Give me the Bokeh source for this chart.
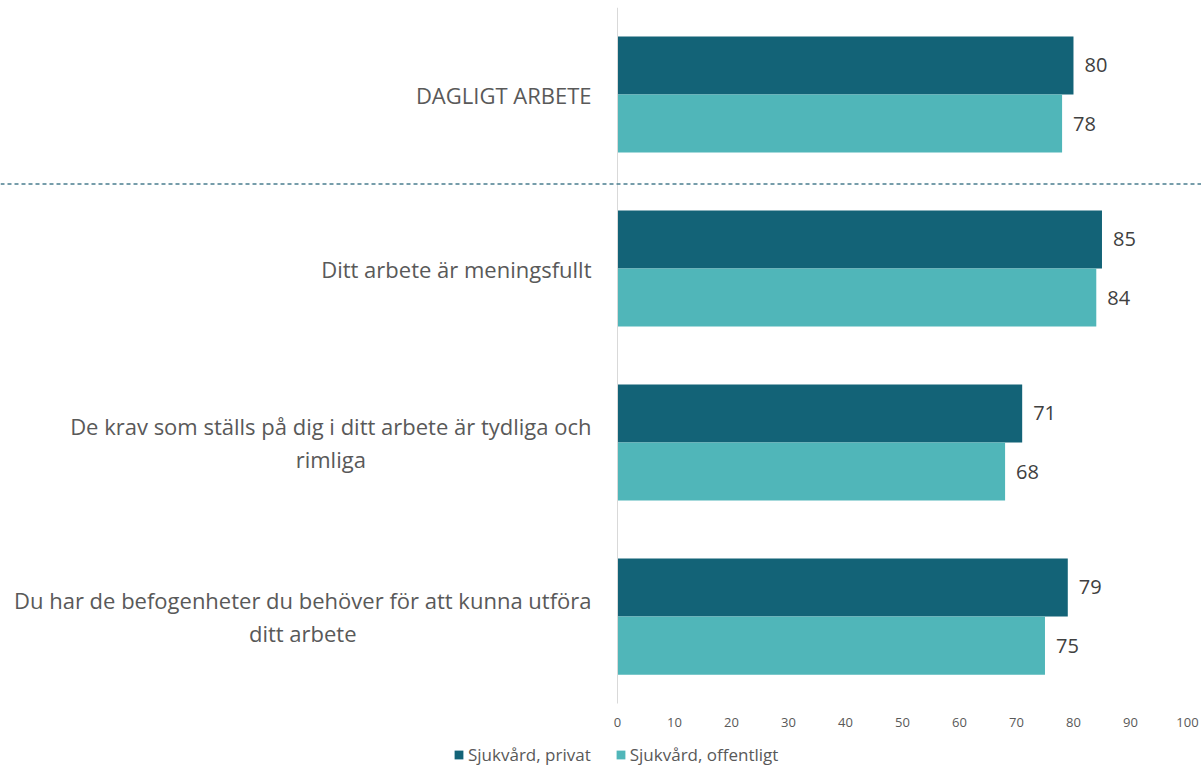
from bokeh.plotting import figure
from bokeh.models import (Range1d, Span, Legend, LegendItem,
                          FixedTicker, ColumnDataSource)
from bokeh.core.properties import value
from bokeh.embed import file_html
from bokeh.resources import INLINE

# ---- data ----
categories = [
    "DAGLIGT ARBETE",
    "Ditt arbete är meningsfullt",
    "De krav som ställs på dig i ditt arbete är tydliga och\nrimliga",
    "Du har de befogenheter du behöver för att kunna utföra\nditt arbete",
]
series_names = ["Sjukvård, privat", "Sjukvård, offentligt"]
privat = [80, 85, 71, 79]
offentligt = [78, 84, 68, 75]
x_ticks = [0, 10, 20, 30, 40, 50, 60, 70, 80, 90, 100]

# ---- styles ----
DARK = "#136377"
LIGHT = "#50B6B9"
GREY = "#595959"
FONT = "Open Sans"
OFF = 0.167      # half bar slot (category units)
BH = 0.334       # bar thickness (category units)

n = len(categories)
ycat = [n - 0.5 - i for i in range(n)]   # category slot centres, top first

src = ColumnDataSource(dict(
    cat=categories,
    y=ycat,
    y_priv=[v + OFF for v in ycat],
    y_off=[v - OFF for v in ycat],
    privat=privat,
    offentligt=offentligt,
    privat_txt=[str(v) for v in privat],
    offentligt_txt=[str(v) for v in offentligt],
))

p = figure(
    width=1201, height=766,
    y_range=Range1d(-0.362, n),
    x_range=Range1d(-108.25, 102.46),
    output_backend="svg", toolbar_location=None,
    min_border_left=0, min_border_right=0, min_border_top=7, min_border_bottom=0,
)
p.outline_line_color = None
p.grid.visible = False

# y axis: only its line at x = 0
ya = p.yaxis[0]
ya.fixed_location = 0
ya.bounds = (0, n)
ya.axis_line_color = "#D9D9D9"
ya.axis_line_width = 1
ya.major_tick_line_color = None
ya.minor_tick_line_color = None
ya.major_label_text_font_size = "0px"
ya.major_label_text_color = None

xa = p.xaxis[0]
xa.fixed_location = 0
xa.ticker = FixedTicker(ticks=x_ticks)
xa.axis_line_color = None
xa.major_tick_line_color = None
xa.minor_tick_line_color = None
xa.major_label_standoff = 8
xa.major_label_text_font = FONT
xa.major_label_text_font_size = "13px"
xa.major_label_text_color = GREY

# dashed separator under the first category
p.add_layout(Span(location=n - 1 - 0.015, dimension="width",
                  line_color="#4A7E8F", line_width=1.5, line_dash="4 3"))

r1 = p.hbar(y="y_priv", left=0, right="privat", height=BH,
            fill_color=DARK, line_color=None, source=src)
r2 = p.hbar(y="y_off", left=0, right="offentligt", height=BH,
            fill_color=LIGHT, line_color=None, source=src)

for col, ycol in (("privat", "y_priv"), ("offentligt", "y_off")):
    p.text(x=col, y=ycol, text=col + "_txt", source=src,
           x_offset=11, text_align="left", text_baseline="middle",
           text_font=value(FONT), text_font_size="20px", text_color="#404040")

# category labels
p.text(x=0, y="y", text="cat", source=src, x_offset=-26,
       anchor="center_right", text_align="center", text_baseline="middle",
       text_font=value(FONT), text_font_size="22px", text_color=GREY,
       text_line_height=1.1)

legend = Legend(
    items=[LegendItem(label=series_names[0], renderers=[r1]),
           LegendItem(label=series_names[1], renderers=[r2])],
    orientation="horizontal", location=(453, 0),
    label_text_font=FONT, label_text_font_size="17px", label_text_color=GREY,
    glyph_width=11, glyph_height=11, label_standoff=4, spacing=24,
    padding=0, margin=0, border_line_color=None, background_fill_alpha=0,
)
p.add_layout(legend, "center")

open("out.html", "w").write(file_html(p, INLINE))
